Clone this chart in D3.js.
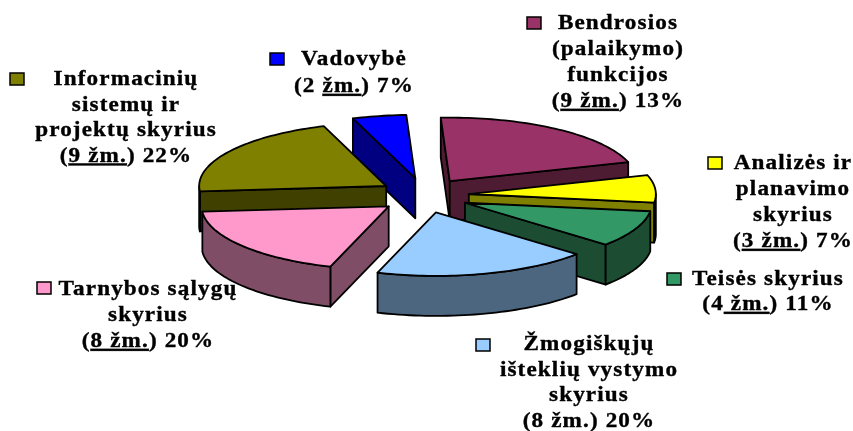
<!DOCTYPE html>
<html lang="lt"><head><meta charset="utf-8">
<script src="https://cdnjs.cloudflare.com/ajax/libs/d3/7.8.5/d3.min.js"></script>
<style>
html,body{margin:0;padding:0;background:#fff}
svg{display:block}
text{font-family:"Liberation Serif",serif;font-weight:700;font-size:20.5px;letter-spacing:1px;fill:#000;stroke:#000;stroke-width:.35px;text-anchor:middle}
</style></head><body>
<svg id="c" width="853" height="431"></svg>
<script>
// Data: categories, head-counts (slice sizes), and the label text ("|" marks underlined runs)
const categories = ["Vadovybė","Bendrosios","Analizės","Teisės","Žmogiškųjų","Tarnybos","Informacinių"];
const headcount = [2,9,3,4,8,8,9];
const labelLines = [
  ["Vadovybė","(2 |žm.|) 7%"],
  ["Bendrosios","(palaikymo)","funkcijos","(|9 žm.|) 13%"],
  ["Analizės ir","planavimo","skyrius","(|3 žm.|) 7%"],
  ["Teisės skyrius","(4| žm.|) 11%"],
  ["Žmogiškųjų","išteklių vystymo","skyrius","(8 žm.) 20%"],
  ["Tarnybos sąlygų","skyrius","(|8 žm.|) 20%"],
  ["Informacinių","sistemų ir","projektų skyrius","(|9 žm.|) 22%"]
];
const topColors  = ["#0000ff","#993366","#ffff00","#339966","#99ccff","#ff99cc","#808000"];
const sideColors = ["#000080","#4d1a33","#808000","#1a4d33","#4d6680","#804d66","#404000"];

// Layout
const W=853,H=431;
const cx=424,cy=195.5,rx=187,ry=63.5,exX=45,exY=17.5,depth=40;
const startDeg=-19.5;
const textStretch=1.13;
const paintOrder=[0,6,1,2,3,5,4];
const labelPos=[
  {x:354,y:65,lh:27,sx:270,sy:53},
  {x:618,y:29,lh:26,sx:527,sy:17},
  {x:793,y:169,lh:26,sx:708,sy:157},
  {x:768,y:285,lh:25,sx:667,sy:273},
  {x:589,y:350,lh:25.5,sx:476,sy:339},
  {x:148,y:295,lh:26,sx:37,sy:282},
  {x:126,y:85,lh:25.5,sx:10,sy:73}
];

const svg=d3.select("#c");
const defs=svg.append("defs");
defs.append("filter").attr("id","soft").append("feGaussianBlur").attr("stdDeviation",0.45);
const root=svg.append("g").attr("filter","url(#soft)");

const start=startDeg*Math.PI/180;
const pie=d3.pie().sort(null).value(d=>d).startAngle(start).endAngle(start+2*Math.PI);
const arcs=pie(headcount);
const sx=d3.scaleLinear().domain([-1,1]).range([-rx,rx]);
const sy=d3.scaleLinear().domain([-1,1]).range([-ry,ry]);
const line=d3.line().x(d=>d[0]).y(d=>d[1]);

function slice(a){
  const m=(a.startAngle+a.endAngle)/2;
  const ax=cx+exX*Math.sin(m), ay=cy-exY*Math.cos(m);
  const rim=t=>[ax+sx(Math.sin(t)),ay+sy(-Math.cos(t))];
  return {ax,ay,rim};
}
const down=p=>[p[0],p[1]+depth];
const styleFace=(sel,fill)=>sel.attr("fill",fill).attr("stroke","#000").attr("stroke-width",1.8).attr("stroke-linejoin","round");

paintOrder.forEach(i=>{
  const a=arcs[i], s=slice(a), g=root.append("g").attr("class","slice");
  const apex=[s.ax,s.ay];
  const wall=pts=>styleFace(g.append("path").attr("d",line(pts)+"Z"),sideColors[i]);
  const p0=s.rim(a.startAngle), p1=s.rim(a.endAngle);
  // radial walls facing the viewer
  if(Math.sin(a.startAngle)<0) wall([p0,apex,down(apex),down(p0)]);
  if(Math.sin(a.endAngle)>0) wall([apex,p1,down(p1),down(apex)]);
  // outer rim wall (front half of the ellipse only)
  const lo=Math.max(a.startAngle,Math.PI/2), hi=Math.min(a.endAngle,3*Math.PI/2);
  if(hi>lo){
    const ts=d3.range(0,41).map(k=>lo+(hi-lo)*k/40);
    const upper=ts.map(s.rim);
    wall(upper.concat(upper.slice().reverse().map(down)));
  }
  // top face
  const n=Math.max(8,Math.ceil((a.endAngle-a.startAngle)*40));
  const ts=d3.range(0,n+1).map(k=>a.startAngle+(a.endAngle-a.startAngle)*k/n);
  styleFace(g.append("path").attr("d",line([apex].concat(ts.map(s.rim)))+"Z"),topColors[i]);
});

// Labels
const lg=root.append("g");
categories.forEach((c,i)=>{
  const p=labelPos[i];
  lg.append("rect").attr("x",p.sx).attr("y",p.sy).attr("width",14).attr("height",12)
    .attr("fill",topColors[i]).attr("stroke","#000").attr("stroke-width",1.5);
  labelLines[i].forEach((ln,j)=>{
    const t=lg.append("text").attr("transform",`translate(${p.x},${p.y+j*p.lh}) scale(${textStretch},1)`);
    ln.split("|").forEach((run,k)=>{
      const ts=t.append("tspan").text(run).attr("xml:space","preserve").style("white-space","pre");
      if(k%2) ts.style("text-decoration","underline");
    });
  });
});
</script></body></html>
